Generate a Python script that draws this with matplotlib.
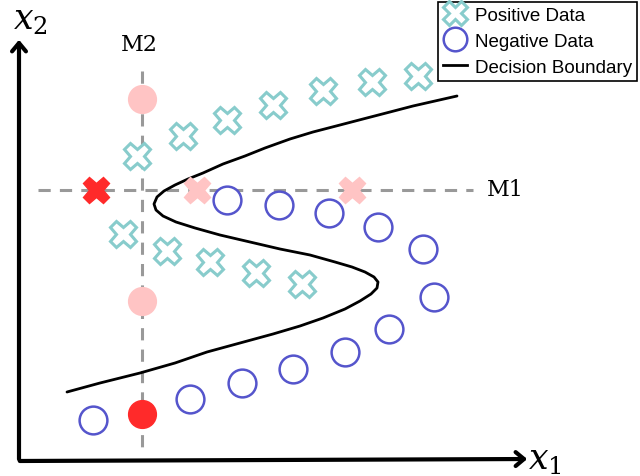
import numpy as np
import matplotlib
matplotlib.use("Agg")
import matplotlib.pyplot as plt
from matplotlib.lines import Line2D

# everything is in picture pixel coordinates (x right, y down)
pos_x = [137, 183, 227, 273, 323, 372, 418, 123, 167, 210, 256, 302]
pos_y = [157, 137, 121, 106, 92, 83, 77, 235, 252, 263, 274, 285]

neg_x = [93, 190, 242, 293, 345, 389, 434, 423, 378, 329, 279, 227]
neg_y = [421, 400, 384, 370, 353, 330, 298, 250, 228, 214, 206, 201]

# probe points on the two measurement lines
m2_x = 142
m1_y = 191
m2_pts_y = [100, 302, 415]
m2_pts_col = ["#ffc4c4", "#ffc4c4", "#ff2a2a"]
m1_pts_x = [96, 197, 352]
m1_pts_col = ["#ff2a2a", "#ffc4c4", "#ffc4c4"]

boundary_x = [67, 100, 140, 175, 207, 240, 273, 300, 323, 345, 360, 371, 377,
              378, 374, 365, 352, 335, 310, 280, 250, 220, 195, 176, 163, 156,
              154, 157, 164, 175, 188, 203, 223, 245, 265, 290, 313, 340, 363,
              390, 413, 435, 457]
boundary_y = [393, 384, 374, 364, 353, 344, 335, 327, 319, 310, 302, 295, 289,
              283, 278, 273, 268, 263, 256, 250, 243, 236, 229, 223, 217, 211,
              205, 198, 192, 186, 180, 174, 165, 157, 149, 140, 133, 126, 120,
              113, 107, 102, 97]

TEAL = "#88cccc"
BLUE = "#5555cc"
GRAY = "#999999"

fig = plt.figure(figsize=(6.4, 4.77), dpi=100)
ax = fig.add_axes([0, 0, 1, 1])
ax.set_xlim(0, 640)
ax.set_ylim(477, 0)
ax.set_axis_off()

# measurement lines
ax.plot([38, 473], [m1_y, m1_y], color=GRAY, lw=2.2, dashes=(4, 3), zorder=1)
ax.plot([m2_x, m2_x], [72, 448], color=GRAY, lw=2.2, dashes=(4, 3), zorder=1)

# decision boundary
ax.plot(boundary_x, boundary_y, color="black", lw=2, zorder=2,
        solid_capstyle="round", solid_joinstyle="round")

# data
ax.plot(pos_x, pos_y, ls="none", marker="X", ms=19, mfc="white",
        mec=TEAL, mew=2.2, zorder=3)
ax.plot(neg_x, neg_y, ls="none", marker="o", ms=20, mfc="white",
        mec=BLUE, mew=1.8, zorder=3)

for y, c in zip(m2_pts_y, m2_pts_col):
    ax.plot(m2_x, y, ls="none", marker="o", ms=20, mfc=c, mec=c, zorder=4)
for x, c in zip(m1_pts_x, m1_pts_col):
    ax.plot(x, m1_y, ls="none", marker="X", ms=19, mfc=c, mec=c, zorder=4)

# axis arrows
ax.annotate("", xy=(19, 38), xytext=(19, 463),
            arrowprops=dict(arrowstyle="->,head_width=0.5,head_length=0.6",
                            lw=3, color="black"))
ax.annotate("", xy=(530, 460), xytext=(17, 462),
            arrowprops=dict(arrowstyle="->,head_width=0.5,head_length=0.6",
                            lw=3, color="black"))

plt.rcParams["mathtext.fontset"] = "dejavuserif"
ax.text(545, 460, r"$x_1$", fontsize=25, ha="center", va="center")
ax.text(30, 20, r"$x_2$", fontsize=25, ha="center", va="center")
ax.text(505, 190, "M1", fontsize=16, family="DejaVu Serif", ha="center", va="center")
ax.text(139, 45, "M2", fontsize=16, family="DejaVu Serif", ha="center", va="center")

handles = [
    Line2D([], [], ls="none", marker="X", ms=17, mfc="white", mec=TEAL, mew=2.2),
    Line2D([], [], ls="none", marker="o", ms=17, mfc="white", mec=BLUE, mew=1.8),
    Line2D([], [], color="black", lw=2),
]
leg = ax.legend(handles, ["Positive Data", "Negative Data", "Decision Boundary"],
                loc="upper right", bbox_to_anchor=(0.995, 0.994),
                prop={"family": "Liberation Sans", "size": 13.5},
                handlelength=1.3, handletextpad=0.4, labelspacing=0.48,
                borderpad=0.25, borderaxespad=0, fancybox=False,
                edgecolor="black", framealpha=1)
leg.get_frame().set_linewidth(1.2)

fig.savefig("out.png", dpi=100)
